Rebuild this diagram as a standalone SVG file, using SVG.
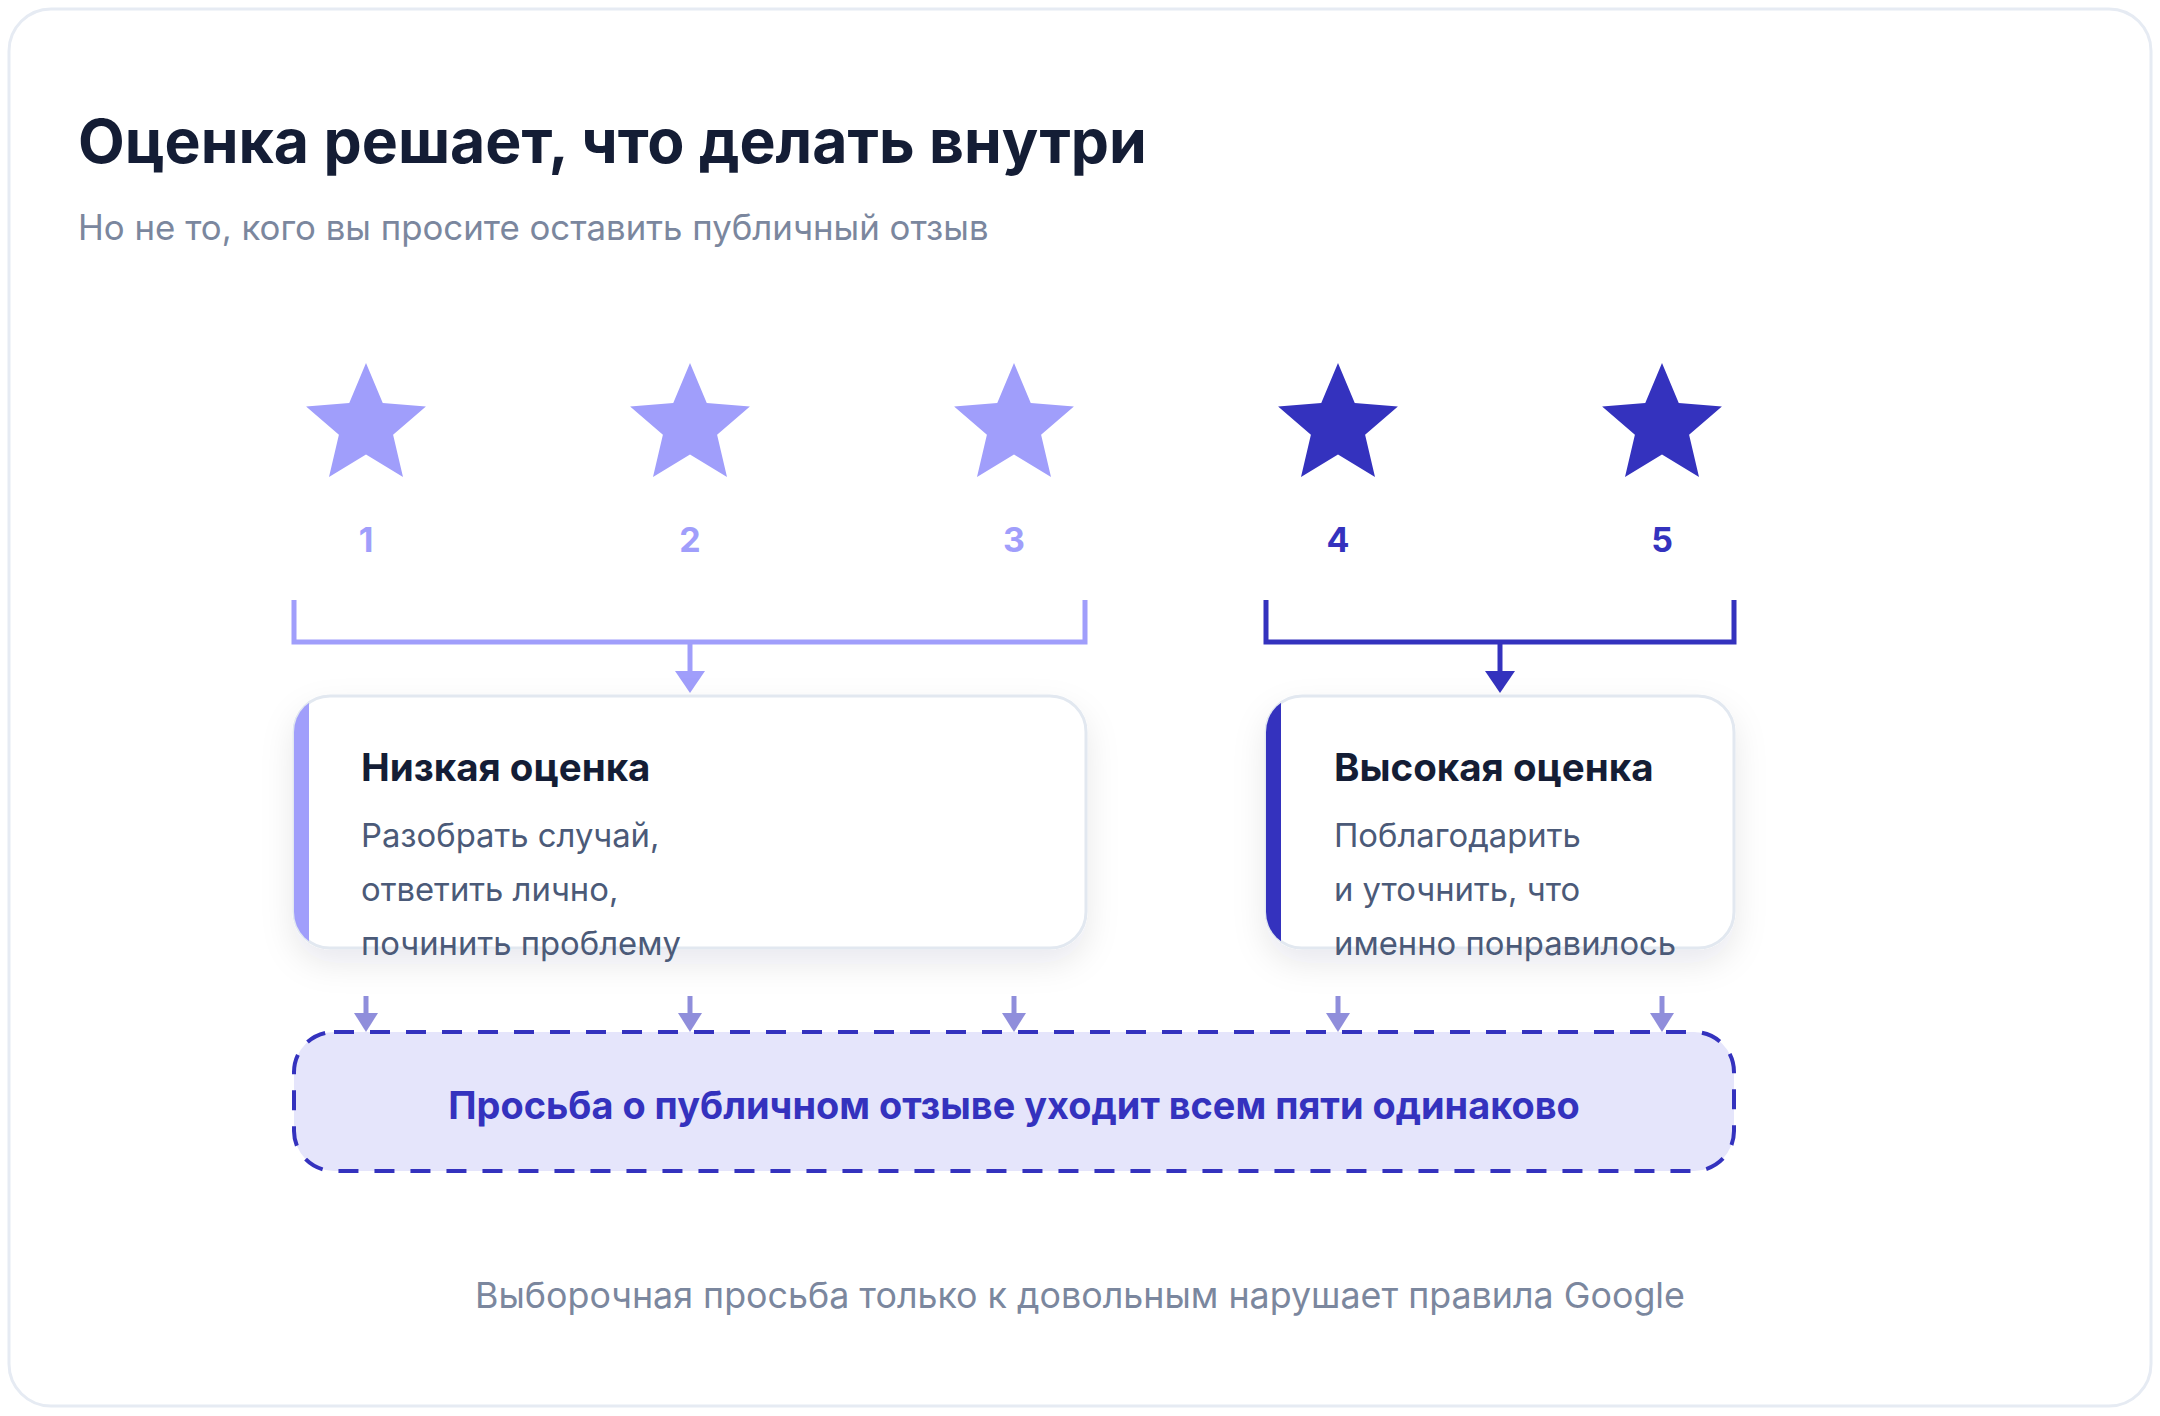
<svg xmlns="http://www.w3.org/2000/svg" width="2160" height="1416" viewBox="0 0 2160 1416">
<defs>
<style>
text{font-family:Inter,"Noto Sans","Liberation Sans",sans-serif}
.title{font-size:60.7px;font-weight:700;fill:#141d35}
.sub{font-size:34.8px;fill:#7b879e}
.num{font-size:34px;font-weight:700;text-anchor:middle}
.ctitle{font-size:38.5px;font-weight:700;fill:#141d35}
.body{font-size:32.8px;fill:#4b5a78}
.light{fill:#a09efb}
.dark{fill:#3432be}
.card{fill:#ffffff;stroke:#e2e8f0;stroke-width:3}
.brL{fill:none;stroke:#a09efb;stroke-width:5}
.brD{fill:none;stroke:#3432be;stroke-width:5}
</style>
<path id="star" d="M0,-63 L16.75,-23.06 L59.9,-19.5 L27.1,8.81 L37,51 L0,28.5 L-37,51 L-27.1,8.81 L-59.9,-19.5 L-16.75,-23.06 Z"/>
<filter id="sh" x="-20%" y="-20%" width="140%" height="160%">
<feDropShadow dx="0" dy="14" stdDeviation="16" flood-color="#0f172a" flood-opacity="0.09"/>
</filter>
<clipPath id="clipL"><rect x="294" y="696" width="792" height="252" rx="36"/></clipPath>
<clipPath id="clipD"><rect x="1266" y="696" width="468" height="252" rx="36"/></clipPath>
</defs>
<rect x="9" y="9" width="2142" height="1397" rx="42" fill="#ffffff" stroke="#e6ebf3" stroke-width="3"/>
<g id="header">
<text class="title" x="78" y="163">Оценка решает, что делать внутри</text>
<text class="sub" x="78" y="240">Но не то, кого вы просите оставить публичный отзыв</text>
</g>
<g id="star1"><use href="#star" x="366" y="426" class="light"/><text class="num light" x="366" y="552">1</text></g>
<g id="star2"><use href="#star" x="690" y="426" class="light"/><text class="num light" x="690" y="552">2</text></g>
<g id="star3"><use href="#star" x="1014" y="426" class="light"/><text class="num light" x="1014" y="552">3</text></g>
<g id="star4"><use href="#star" x="1338" y="426" class="dark"/><text class="num dark" x="1338" y="552">4</text></g>
<g id="star5"><use href="#star" x="1662" y="426" class="dark"/><text class="num dark" x="1662" y="552">5</text></g>
<g id="connectors">
<path class="brL" d="M294,600 V642 H1085 V600"/>
<path class="brL" d="M690,642 V673"/>
<polygon class="light" points="675,671 705,671 690,693"/>
<path class="brD" d="M1266,600 V642 H1734 V600"/>
<path class="brD" d="M1500,642 V673"/>
<polygon class="dark" points="1485,671 1515,671 1500,693"/>
<g opacity="0.55" fill="#3432be" stroke="none">
<rect x="363.5" y="996" width="5" height="18"/><polygon points="354,1013 378,1013 366,1032"/>
<rect x="687.5" y="996" width="5" height="18"/><polygon points="678,1013 702,1013 690,1032"/>
<rect x="1011.5" y="996" width="5" height="18"/><polygon points="1002,1013 1026,1013 1014,1032"/>
<rect x="1335.5" y="996" width="5" height="18"/><polygon points="1326,1013 1350,1013 1338,1032"/>
<rect x="1659.5" y="996" width="5" height="18"/><polygon points="1650,1013 1674,1013 1662,1032"/>
</g>
</g>
<g id="low-card">
<rect class="card" x="294" y="696" width="792" height="252" rx="36" filter="url(#sh)"/>
<rect x="294" y="696" width="15" height="252" clip-path="url(#clipL)" class="light"/>
<text class="ctitle" x="361" y="781">Низкая оценка</text>
<text class="body" x="361" y="847">Разобрать случай,</text>
<text class="body" x="361" y="901">ответить лично,</text>
<text class="body" x="361" y="955">починить проблему</text>
</g>
<g id="high-card">
<rect class="card" x="1266" y="696" width="468" height="252" rx="36" filter="url(#sh)"/>
<rect x="1266" y="696" width="15" height="252" clip-path="url(#clipD)" class="dark"/>
<text class="ctitle" x="1334" y="781">Высокая оценка</text>
<text class="body" x="1334" y="847">Поблагодарить</text>
<text class="body" x="1334" y="901">и уточнить, что</text>
<text class="body" x="1334" y="955">именно понравилось</text>
</g>
<g id="request-box">
<rect x="294" y="1032" width="1440" height="139" rx="40" fill="#e5e5fb" stroke="#3432be" stroke-width="4" stroke-dasharray="20 16"/>
<text x="1014" y="1119" text-anchor="middle" font-size="37.9" font-weight="700" fill="#3432be">Просьба о публичном отзыве уходит всем пяти одинаково</text>
</g>
<g id="footer">
<text x="1080" y="1308" text-anchor="middle" font-size="35.8" fill="#7b879e">Выборочная просьба только к довольным нарушает правила Google</text>
</g>
</svg>
